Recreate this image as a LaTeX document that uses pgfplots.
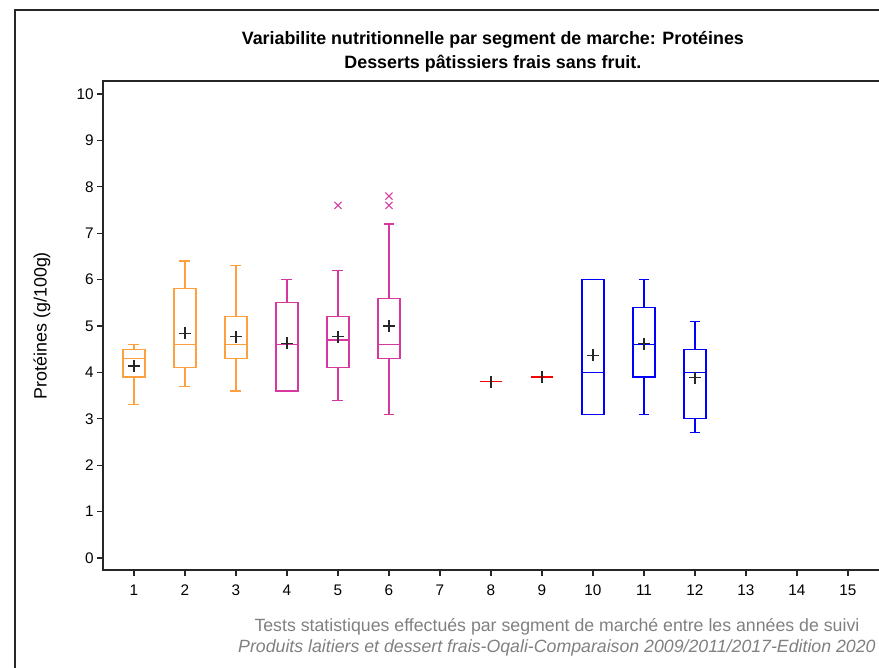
\documentclass[border=0pt]{standalone}
\usepackage{fontspec}
\setmainfont{Liberation Sans}
\usepackage{pgfplots}
\pgfplotsset{compat=1.18}
\usepgfplotslibrary{statistics}
\definecolor{cor}{RGB}{255,160,64}
\definecolor{cmag}{RGB}{214,56,160}
\definecolor{cblue}{RGB}{0,0,255}
\definecolor{cgray}{RGB}{128,128,128}
\begin{document}
\begin{tikzpicture}
\begin{axis}[
  x=38.25pt, y=34.8pt,
  xmin=0.392, xmax=15.9, ymin=-0.26, ymax=10.28,
  clip=false,
  axis line style={black!85, line width=0.9pt},
  xtick={1,...,15}, ytick={0,...,10},
  xtick pos=bottom, ytick pos=left,
  tick align=outside, major tick length=4.5pt,
  tick style={black!85, line width=0.8pt},
  /pgf/number format/assume math mode=true,
  ticklabel style={font=\fontsize{11.5}{13}\selectfont},
  xticklabel style={yshift=-3pt},
  yticklabel style={xshift=1pt},
  ylabel={Protéines (g/100g)},
  ylabel style={at={(axis description cs:-0.0771,0.5)}, anchor=center, font=\fontsize{13.4}{15}\selectfont},
  title={Variabilite nutritionnelle par segment de marche: Protéines\\Desserts pâtissiers frais sans fruit.},
  title style={at={(axis description cs:0.493,1.043)}, anchor=center, align=center, font=\bfseries\fontsize{13.4}{18}\selectfont},
  xlabel={Tests statistiques effectués par segment de marché entre les années de suivi\\\textit{Produits laitiers et dessert frais-Oqali-Comparaison 2009/2011/2017-Edition 2020}},
  xlabel style={at={(axis description cs:0.574,-0.138)}, anchor=center, align=center, text=cgray, font=\fontsize{13.3}{15.75}\selectfont},
  boxplot/draw direction=y,
  boxplot/box extend=0.43,
  boxplot/whisker extend=0.215,
]
% orange
\addplot[cor, line width=0.9pt, boxplot prepared={draw position=1, lower whisker=3.3, lower quartile=3.9, median=4.3, upper quartile=4.5, upper whisker=4.6}] coordinates {};
\addplot[cor, line width=0.9pt, boxplot prepared={draw position=2, lower whisker=3.7, lower quartile=4.1, median=4.6, upper quartile=5.8, upper whisker=6.4}] coordinates {};
\addplot[cor, line width=0.9pt, boxplot prepared={draw position=3, lower whisker=3.6, lower quartile=4.3, median=4.6, upper quartile=5.2, upper whisker=6.3}] coordinates {};
% magenta
\addplot[cmag, line width=0.9pt, boxplot prepared={draw position=4, lower whisker=3.6, lower quartile=3.6, median=4.6, upper quartile=5.5, upper whisker=6.0}] coordinates {};
\addplot[cmag, line width=0.9pt, boxplot prepared={draw position=5, lower whisker=3.4, lower quartile=4.1, median=4.7, upper quartile=5.2, upper whisker=6.2}] coordinates {};
\addplot[cmag, line width=0.9pt, boxplot prepared={draw position=6, lower whisker=3.1, lower quartile=4.3, median=4.6, upper quartile=5.6, upper whisker=7.2}] coordinates {};
% blue
\addplot[cblue, line width=0.9pt, boxplot prepared={draw position=10, lower whisker=3.1, lower quartile=3.1, median=4.0, upper quartile=6.0, upper whisker=6.0}] coordinates {};
\addplot[cblue, line width=0.9pt, boxplot prepared={draw position=11, lower whisker=3.1, lower quartile=3.9, median=4.6, upper quartile=5.4, upper whisker=6.0}] coordinates {};
\addplot[cblue, line width=0.9pt, boxplot prepared={draw position=12, lower whisker=2.7, lower quartile=3.0, median=4.0, upper quartile=4.5, upper whisker=5.1}] coordinates {};
% outliers
\addplot[only marks, mark=x, mark size=3.75pt, cmag, line width=0.8pt] coordinates {(5,7.6) (6,7.8) (6,7.6)};
% means
\addplot[only marks, mark=+, mark size=4.5pt, black!85, line width=0.9pt] coordinates {(1,4.14) (2,4.84) (3,4.77) (4,4.63) (5,4.77) (6,5.0) (10,4.37) (11,4.62) (12,3.89)};
% single-value segments: red line, mean shown by its vertical stroke
\addplot[only marks, mark=-, mark size=8.2pt, red, line width=1.2pt] coordinates {(8,3.8) (9,3.9)};
\addplot[only marks, mark=|, mark size=4.5pt, black!85, line width=0.9pt] coordinates {(8,3.8) (9,3.91)};
\coordinate (bl) at (axis cs:-1.627,-2.349);
\coordinate (tr) at (axis cs:15.608,12.026);
\draw[black!85, line width=1pt] (axis cs:-1.333,-3) -- (axis cs:-1.333,11.81) -- (axis cs:17,11.81);
\end{axis}
\pgfresetboundingbox
\useasboundingbox (bl) rectangle (tr);
\end{tikzpicture}
\end{document}
